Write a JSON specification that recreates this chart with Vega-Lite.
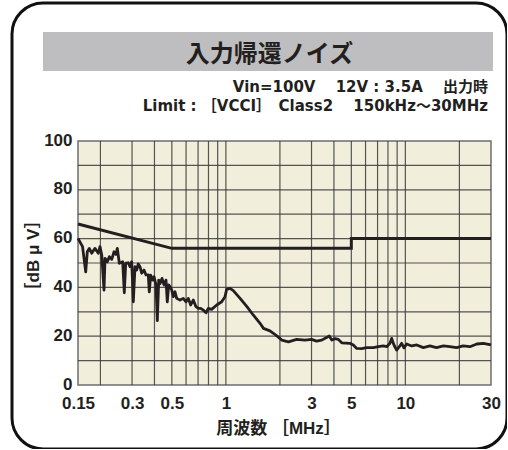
{
  "$schema": "https://vega.github.io/schema/vega-lite/v6.json",
  "width": 495,
  "height": 446,
  "autosize": {"type": "none"},
  "padding": {"left": 12, "top": 3, "right": 0, "bottom": 0},
  "background": "white",
  "view": {"stroke": "#111111", "strokeWidth": 3, "cornerRadius": 31, "fill": "white"},
  "config": {
    "axis": {
      "domain": false, "ticks": false, "tickSize": 0, "grid": false,
      "labelFont": "Liberation Sans", "labelFontWeight": "bold", "labelFontSize": 17, "labelColor": "#231f20",
      "titleFont": "'Liberation Sans', 'Noto Sans CJK JP'", "titleFontWeight": "bold", "titleFontSize": 17, "titleColor": "#231f20"
    }
  },
  "datasets": {
    "panel": [{"fmin": 0.15, "fmax": 30, "dbmin": 0, "dbmax": 100}],
    "vgrid": [{"f": 0.2}, {"f": 0.3}, {"f": 0.4}, {"f": 0.5}, {"f": 0.6}, {"f": 0.7}, {"f": 0.8}, {"f": 0.9}, {"f": 1}, {"f": 2}, {"f": 3}, {"f": 4}, {"f": 5}, {"f": 6}, {"f": 7}, {"f": 8}, {"f": 9}, {"f": 10}, {"f": 20}],
    "hgrid": [{"dB": 10}, {"dB": 20}, {"dB": 30}, {"dB": 40}, {"dB": 50}, {"dB": 60}, {"dB": 70}, {"dB": 80}, {"dB": 90}],
    "limit": [{"f": 0.15, "dB": 66}, {"f": 0.5, "dB": 56}, {"f": 5, "dB": 56}, {"f": 5, "dB": 60}, {"f": 30, "dB": 60}],
    "noise": [
      {"f": 0.15, "dB": 60.1}, {"f": 0.159, "dB": 56.7}, {"f": 0.1656, "dB": 46.4}, {"f": 0.169, "dB": 54.6}, {"f": 0.1734, "dB": 56.0},
      {"f": 0.1788, "dB": 54.0}, {"f": 0.1865, "dB": 56.0}, {"f": 0.1946, "dB": 54.0}, {"f": 0.1989, "dB": 56.7}, {"f": 0.2034, "dB": 53.3},
      {"f": 0.2094, "dB": 38.9}, {"f": 0.2122, "dB": 51.9}, {"f": 0.2185, "dB": 50.5}, {"f": 0.2242, "dB": 52.6}, {"f": 0.2312, "dB": 51.5},
      {"f": 0.2382, "dB": 54.6}, {"f": 0.2443, "dB": 53.5}, {"f": 0.2484, "dB": 56.0}, {"f": 0.2549, "dB": 49.9}, {"f": 0.2661, "dB": 50.5},
      {"f": 0.2717, "dB": 37.8}, {"f": 0.2766, "dB": 49.9}, {"f": 0.286, "dB": 50.1}, {"f": 0.2923, "dB": 48.5}, {"f": 0.2988, "dB": 50.5},
      {"f": 0.305, "dB": 34.1}, {"f": 0.3117, "dB": 48.5}, {"f": 0.3184, "dB": 47.1}, {"f": 0.325, "dB": 49.6}, {"f": 0.3323, "dB": 48.5}, {"f": 0.3396, "dB": 45.8},
      {"f": 0.3498, "dB": 47.1}, {"f": 0.3589, "dB": 45.1}, {"f": 0.3696, "dB": 45.1}, {"f": 0.3744, "dB": 38.2}, {"f": 0.3812, "dB": 45.0},
      {"f": 0.391, "dB": 43.0}, {"f": 0.3977, "dB": 44.4}, {"f": 0.408, "dB": 41.0}, {"f": 0.4149, "dB": 26.4}, {"f": 0.4225, "dB": 43.0},
      {"f": 0.4295, "dB": 41.5}, {"f": 0.4407, "dB": 43.7}, {"f": 0.4522, "dB": 41.0}, {"f": 0.4638, "dB": 43.0}, {"f": 0.4716, "dB": 34.1},
      {"f": 0.4801, "dB": 41.0}, {"f": 0.4882, "dB": 40.3}, {"f": 0.499, "dB": 39.0}, {"f": 0.5094, "dB": 36.2}, {"f": 0.5206, "dB": 38.2},
      {"f": 0.532, "dB": 35.5}, {"f": 0.555, "dB": 34.8}, {"f": 0.579, "dB": 35.5}, {"f": 0.5997, "dB": 34.1}, {"f": 0.6176, "dB": 35.5},
      {"f": 0.6369, "dB": 32.8}, {"f": 0.6582, "dB": 34.8}, {"f": 0.6815, "dB": 32.1}, {"f": 0.7019, "dB": 31.4}, {"f": 0.7239, "dB": 31.4},
      {"f": 0.7484, "dB": 30.7}, {"f": 0.7749, "dB": 29.6}, {"f": 0.798, "dB": 31.4}, {"f": 0.8335, "dB": 31.0}, {"f": 0.889, "dB": 32.8},
      {"f": 0.948, "dB": 34.1}, {"f": 0.989, "dB": 36.2}, {"f": 1.01, "dB": 39.2}, {"f": 1.054, "dB": 39.6}, {"f": 1.1, "dB": 38.7},
      {"f": 1.2, "dB": 35.5}, {"f": 1.31, "dB": 32.1}, {"f": 1.42, "dB": 28.7}, {"f": 1.55, "dB": 25.3}, {"f": 1.62, "dB": 23.2},
      {"f": 1.76, "dB": 22.2}, {"f": 1.84, "dB": 21.2}, {"f": 1.96, "dB": 19.6}, {"f": 2.05, "dB": 18.4}, {"f": 2.23, "dB": 17.7},
      {"f": 2.48, "dB": 18.7}, {"f": 2.76, "dB": 18.4}, {"f": 3.0, "dB": 18.7}, {"f": 3.2, "dB": 18.0}, {"f": 3.42, "dB": 18.4},
      {"f": 3.77, "dB": 20.1}, {"f": 3.89, "dB": 18.4}, {"f": 4.05, "dB": 19.0}, {"f": 4.23, "dB": 18.7}, {"f": 4.42, "dB": 17.3},
      {"f": 4.91, "dB": 17.1}, {"f": 5.13, "dB": 16.4}, {"f": 5.36, "dB": 15.0}, {"f": 5.71, "dB": 14.9}, {"f": 6.09, "dB": 15.3},
      {"f": 6.63, "dB": 15.3}, {"f": 7.07, "dB": 15.7}, {"f": 7.53, "dB": 16.0}, {"f": 7.87, "dB": 15.7}, {"f": 8.21, "dB": 17.1},
      {"f": 8.39, "dB": 19.1}, {"f": 8.64, "dB": 16.4}, {"f": 8.94, "dB": 14.3}, {"f": 9.25, "dB": 15.7}, {"f": 9.54, "dB": 17.1},
      {"f": 9.82, "dB": 15.2}, {"f": 10.17, "dB": 16.8}, {"f": 10.85, "dB": 16.0}, {"f": 11.57, "dB": 16.4}, {"f": 12.6, "dB": 15.3},
      {"f": 13.7, "dB": 16.0}, {"f": 14.9, "dB": 15.3}, {"f": 16.3, "dB": 16.0}, {"f": 17.7, "dB": 15.7}, {"f": 19.3, "dB": 15.3},
      {"f": 21.0, "dB": 16.0}, {"f": 22.9, "dB": 15.7}, {"f": 25.0, "dB": 16.8}, {"f": 27.2, "dB": 17.1}, {"f": 30, "dB": 16.4}
    ]
  },
  "layer": [
    {
      "data": {"name": "panel"},
      "mark": {"type": "rect", "fill": "#f1eedc", "stroke": "#6e6e6e", "strokeWidth": 1.5},
      "encoding": {
        "x": {"field": "fmin", "type": "quantitative",
              "scale": {"type": "log", "domain": [0.15, 30], "range": [66, 479], "nice": false, "clamp": false},
              "axis": {"values": [0.15, 0.3, 0.5, 1, 3, 5, 10, 30], "format": "~g", "offset": -64, "labelPadding": 10,
                       "labelFlush": false, "labelOverlap": false, "labelBaseline": "top",
                       "title": "周波数 ［MHz］", "titleX": 266, "titleY": 43, "titleAnchor": null, "titleBaseline": "middle", "titleAlign": "center"}},
        "x2": {"field": "fmax"},
        "y": {"field": "dbmin", "type": "quantitative",
              "scale": {"domain": [0, 100], "range": [382, 138], "nice": false, "zero": false},
              "axis": {"values": [0, 20, 40, 60, 80, 100], "offset": -66, "labelPadding": 6, "labelOffset": -1, "labelOverlap": false, "labelFlush": false,
                       "title": "［dB μ V］", "titleX": -45, "titleY": 252, "titleAngle": -90, "titleAlign": "center", "titleBaseline": "middle", "titleAnchor": null}},
        "y2": {"field": "dbmax"}
      }
    },
    {
      "data": {"name": "vgrid"},
      "mark": {"type": "rule", "stroke": "#3a3a3a", "strokeWidth": 1.2, "opacity": 0.85},
      "encoding": {
        "x": {"field": "f", "type": "quantitative"},
        "y": {"datum": 0},
        "y2": {"datum": 100}
      }
    },
    {
      "data": {"name": "hgrid"},
      "mark": {"type": "rule", "stroke": "#3a3a3a", "strokeWidth": 1.2, "opacity": 0.85},
      "encoding": {
        "y": {"field": "dB", "type": "quantitative"},
        "x": {"datum": 0.15},
        "x2": {"datum": 30}
      }
    },
    {
      "data": {"name": "limit"},
      "mark": {"type": "line", "stroke": "#231f20", "strokeWidth": 3, "strokeJoin": "miter"},
      "encoding": {
        "x": {"field": "f", "type": "quantitative"},
        "y": {"field": "dB", "type": "quantitative"},
        "order": {"value": null}
      }
    },
    {
      "data": {"name": "noise"},
      "mark": {"type": "line", "stroke": "#231f20", "strokeWidth": 2.8, "strokeJoin": "round"},
      "encoding": {
        "x": {"field": "f", "type": "quantitative"},
        "y": {"field": "dB", "type": "quantitative"},
        "order": {"value": null}
      }
    },
    {
      "data": {"name": "panel"},
      "mark": {"type": "rect", "fill": "#bebec1"},
      "encoding": {
        "x": {"datum": 0.0957},
        "x2": {"datum": 30.78},
        "y": {"datum": 128.7},
        "y2": {"datum": 144.7}
      }
    },
    {
      "data": {"name": "panel"},
      "mark": {"type": "text", "text": "入力帰還ノイズ", "font": "Noto Sans CJK JP", "fontWeight": "bold", "fontSize": 24, "color": "#231f20", "align": "center", "baseline": "middle"},
      "encoding": {
        "x": {"datum": 1.75},
        "y": {"datum": 135.2}
      }
    },
    {
      "data": {"name": "panel"},
      "mark": {"type": "text", "text": "Vin=100V　 12V : 3.5A　  出力時", "font": "'DejaVu Sans', 'Noto Sans CJK JP'", "fontWeight": "bold", "fontSize": 15, "color": "#231f20", "align": "right", "baseline": "middle"},
      "encoding": {
        "x": {"datum": 28.87},
        "y": {"datum": 122.1}
      }
    },
    {
      "data": {"name": "panel"},
      "mark": {"type": "text", "text": "Limit : ［VCCI］　Class2　 150kHz～30MHz", "font": "'DejaVu Sans', 'Noto Sans CJK JP'", "fontWeight": "bold", "fontSize": 15, "color": "#231f20", "align": "right", "baseline": "middle"},
      "encoding": {
        "x": {"datum": 28.87},
        "y": {"datum": 114.3}
      }
    }
  ]
}
